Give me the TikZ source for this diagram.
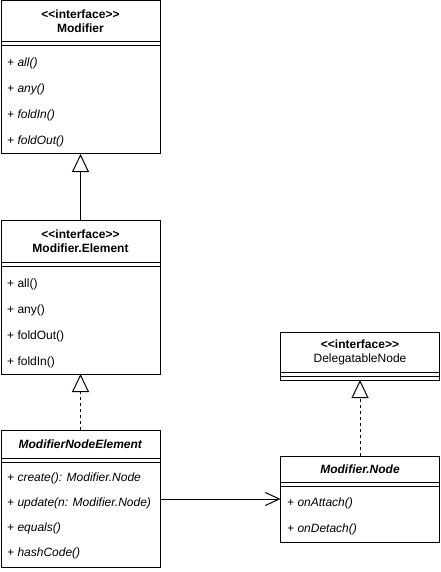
\documentclass[tikz,border=0pt]{standalone}
\usepackage{fontspec}
\newfontfamily\umlfont{Liberation Sans}
\usetikzlibrary{positioning,arrows.meta}
\tikzset{
  cls/.style={draw,line width=1pt,minimum width=159pt,inner sep=0pt,outer sep=0pt,align=center,font=\umlfont\fontsize{12}{14}\selectfont},
  hdr/.style={cls},
  sepbar/.style={cls,minimum height=4pt},
  body/.style={cls},
  member/.style={anchor=west,inner sep=0pt,font=\umlfont\fontsize{12}{14}\selectfont},
  abst/.style={member,font=\umlfont\fontsize{12}{14}\selectfont\itshape},
  gen/.style={-{Triangle[open,length=18pt,width=17pt]},line width=1pt},
  real/.style={gen,dash pattern=on 3pt off 3pt},
  assoc/.style={-{Straight Barb[length=14pt,width=13pt]},line width=1pt}
}

\begin{document}
\begin{tikzpicture}[x=1pt,y=-1pt]
  \useasboundingbox (0,0) rectangle (441,572);
  % Modifier
  \node[hdr,minimum height=41pt] (mod) at (80.5,21.5) {\textbf{<<interface>>}\\\textbf{Modifier}};
  \node[sepbar,below=0pt of mod] (mod-sep) {};
  \node[body,minimum height=108pt,below=0pt of mod-sep] (mod-body) {};
  \node[abst] (mod-1) at (7,63) {+ all()};
  \node[abst] (mod-2) at (7,89) {+ any()};
  \node[abst] (mod-3) at (7,115) {+ foldIn()};
  \node[abst] (mod-4) at (7,141) {+ foldOut()};

  % Modifier.Element
  \node[hdr,minimum height=42pt] (elem) at (80.5,241) {\textbf{<<interface>>}\\\textbf{Modifier.Element}};
  \node[sepbar,below=0pt of elem] (elem-sep) {};
  \node[body,minimum height=108pt,below=0pt of elem-sep] (elem-body) {};
  \node[member] (elem-1) at (7,284) {+ all()};
  \node[member] (elem-2) at (7,310) {+ any()};
  \node[member] (elem-3) at (7,336) {+ foldOut()};
  \node[member] (elem-4) at (7,362) {+ foldIn()};

  % ModifierNodeElement
  \node[hdr,minimum height=28pt] (nelem) at (80.5,444) {\textbf{\textit{ModifierNodeElement}}};
  \node[sepbar,below=0pt of nelem] (nelem-sep) {};
  \node[body,minimum height=105pt,below=0pt of nelem-sep] (nelem-body) {};
  \node[abst] (nelem-1) at (7,478) {+ create(): Modifier.Node};
  \node[abst] (nelem-2) at (7,503) {+ update(n: Modifier.Node)};
  \node[abst] (nelem-3) at (7,528) {+ equals()};
  \node[abst] (nelem-4) at (7,553) {+ hashCode()};

  % DelegatableNode
  \node[hdr,minimum height=40pt] (deleg) at (360,352) {\textbf{<<interface>>}\\DelegatableNode};
  \node[sepbar,below=0pt of deleg] (deleg-sep) {};
  \node[sepbar,below=0pt of deleg-sep] (deleg-body) {};

  % Modifier.Node
  \node[hdr,minimum height=26pt] (mnode) at (360,469) {\textbf{\textit{Modifier.Node}}};
  \node[sepbar,below=0pt of mnode] (mnode-sep) {};
  \node[body,minimum height=56pt,below=0pt of mnode-sep] (mnode-body) {};
  \node[abst] (mnode-1) at (287,503) {+ onAttach()};
  \node[abst] (mnode-2) at (287,529) {+ onDetach()};

  \coordinate (assoc-y) at (0,499);
  \draw[gen] (elem.north) -- (mod-body.south);
  \draw[real] (nelem.north) -- (elem-body.south);
  \draw[real] (mnode.north) -- (deleg-body.south);
  \draw[assoc] (nelem-body.east |- assoc-y) -- (mnode-body.west |- assoc-y);
\end{tikzpicture}
\end{document}
